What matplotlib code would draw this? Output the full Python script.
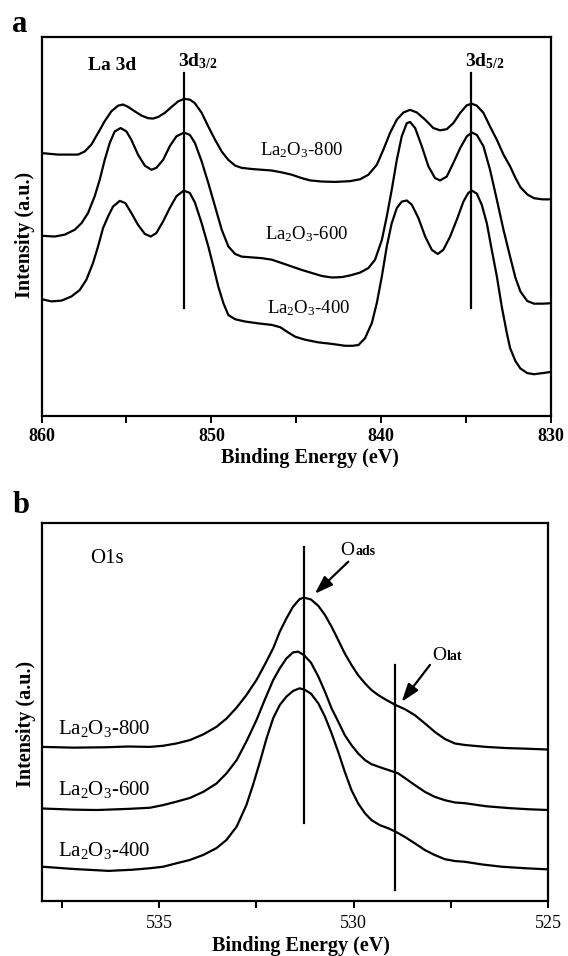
import matplotlib
matplotlib.use('Agg')
import matplotlib.pyplot as plt
import matplotlib.ticker as ticker

plt.rcParams['font.family'] = ['Liberation Serif', 'DejaVu Serif']
plt.rcParams['mathtext.fontset'] = 'custom'
plt.rcParams['mathtext.rm'] = 'Liberation Serif'
plt.rcParams['mathtext.it'] = 'Liberation Serif:italic'
plt.rcParams['mathtext.bf'] = 'Liberation Serif:bold'

# ---- panel a: La 3d (binding energy eV, intensity a.u.) ----
sample_labels = ['La$_2$O$_3$-800', 'La$_2$O$_3$-600', 'La$_2$O$_3$-400']

la_800_x = [860.0, 859.03, 857.85, 857.46, 857.07, 856.67, 856.28, 855.89, 855.49, 855.20,
            854.91, 854.51, 854.12, 853.73, 853.43, 853.14, 852.74, 852.36, 851.96, 851.61,
            851.27, 850.98, 850.57, 850.18, 849.78, 849.39, 849.00, 848.60, 848.21, 847.62,
            847.03, 846.44, 845.85, 845.27, 844.68, 844.19, 843.50, 842.71, 841.83, 841.24,
            840.75, 840.26, 839.87, 839.48, 839.08, 838.69, 838.30, 837.90, 837.41, 836.93,
            836.53, 836.14, 835.75, 835.35, 834.96, 834.66, 834.37, 833.98, 833.59, 833.19,
            832.80, 832.41, 832.1, 831.8, 831.4, 831.0, 830.5, 830.0]
la_800_y = [69.3, 68.9, 68.9, 69.7, 71.5, 74.6, 77.7, 80.3, 81.8, 82.1,
            81.5, 80.3, 79.2, 78.5, 78.4, 78.8, 79.9, 81.4, 82.9, 83.6,
            83.4, 82.5, 79.9, 76.3, 72.8, 69.7, 67.5, 66.0, 65.4, 65.1,
            64.9, 64.7, 64.2, 63.6, 62.7, 62.1, 61.8, 61.7, 61.9, 62.4,
            63.6, 66.2, 70.2, 74.6, 78.1, 80.0, 80.7, 80.0, 78.1, 75.9,
            75.3, 75.6, 77.2, 79.9, 81.9, 82.3, 81.8, 79.9, 76.3, 72.8,
            68.9, 65.8, 62.8, 60.3, 58.4, 57.4, 57.1, 57.1]

la_600_x = [860.0, 859.22, 858.63, 858.04, 857.65, 857.26, 856.87, 856.57, 856.28, 855.98,
            855.69, 855.34, 855.00, 854.71, 854.32, 853.92, 853.53, 853.24, 852.84, 852.45,
            852.06, 851.61, 851.27, 850.97, 850.57, 850.18, 849.78, 849.39, 849.00, 848.60,
            848.21, 847.62, 847.03, 846.44, 845.85, 845.27, 844.68, 844.09, 843.50, 842.91,
            842.32, 841.78, 841.24, 840.75, 840.36, 839.96, 839.67, 839.38, 839.08, 838.79,
            838.49, 838.30, 838.00, 837.61, 837.22, 836.83, 836.53, 836.14, 835.75, 835.35,
            834.96, 834.66, 834.37, 833.98, 833.59, 833.19, 832.80, 832.41, 832.1, 831.8,
            831.4, 831.0, 830.5, 830.0]
la_600_y = [47.5, 47.3, 47.8, 49.1, 50.8, 53.5, 57.9, 62.3, 67.5, 72.0,
            75.0, 75.9, 75.0, 72.8, 68.9, 66.0, 64.9, 65.4, 67.5, 71.1,
            73.7, 74.7, 74.1, 72.0, 67.1, 61.4, 55.2, 49.1, 44.7, 42.7,
            42.0, 41.8, 41.6, 41.2, 40.3, 39.4, 38.5, 37.7, 36.9, 36.5,
            36.6, 37.1, 37.8, 39.0, 41.2, 46.4, 52.6, 59.6, 67.5, 73.7,
            77.2, 77.5, 75.9, 71.1, 65.8, 62.7, 62.1, 63.1, 66.7, 70.6,
            73.7, 74.7, 74.1, 71.1, 64.9, 57.0, 49.1, 42.0, 36.5, 32.8,
            30.3, 29.6, 29.6, 29.7]

la_400_x = [860.0, 859.42, 858.83, 858.24, 857.75, 857.36, 856.97, 856.67, 856.38, 856.08,
            855.79, 855.39, 855.06, 854.71, 854.32, 853.92, 853.57, 853.24, 852.84, 852.45,
            852.06, 851.63, 851.27, 850.97, 850.57, 850.18, 849.88, 849.59, 849.29, 849.00,
            848.60, 848.02, 847.23, 846.44, 845.95, 845.47, 845.07, 844.48, 843.70, 842.91,
            842.13, 841.68, 841.34, 840.95, 840.55, 840.26, 839.96, 839.67, 839.38, 839.08,
            838.79, 838.49, 838.20, 837.81, 837.41, 837.02, 836.67, 836.34, 835.94, 835.55,
            835.16, 834.87, 834.66, 834.37, 834.08, 833.78, 833.49, 833.19, 832.90, 832.60,
            832.41, 832.1, 831.8, 831.4, 831.0, 830.5, 830.0]
la_400_y = [30.8, 30.2, 30.4, 31.5, 33.2, 35.9, 40.3, 44.7, 49.5, 52.6,
            55.2, 56.7, 56.1, 53.5, 50.4, 48.0, 47.3, 48.2, 51.3, 54.8,
            57.9, 59.4, 58.8, 56.3, 50.8, 44.7, 39.4, 34.1, 29.7, 26.6,
            25.5, 24.9, 24.4, 24.0, 23.4, 22.0, 20.9, 20.1, 19.4, 19.0,
            18.5, 18.5, 18.7, 20.5, 24.5, 29.7, 36.8, 44.7, 50.8, 54.8,
            56.5, 56.8, 55.7, 52.2, 47.3, 43.8, 42.7, 43.8, 47.3, 51.7,
            56.5, 58.8, 59.4, 58.6, 55.7, 50.8, 43.8, 36.8, 28.8, 21.8,
            17.9, 14.5, 12.5, 11.3, 11.0, 11.3, 11.6]

la_peaks = [851.63, 834.72]

# ---- panel b: O 1s ----
o_800_x = [538.0, 537.2, 536.4, 535.8, 535.24, 534.90, 534.56, 534.21, 533.87, 533.53,
           533.27, 533.01, 532.76, 532.50, 532.29, 532.07, 531.90, 531.73, 531.56, 531.39,
           531.28, 531.10, 530.91, 530.74, 530.57, 530.40, 530.23, 530.06, 529.89, 529.71,
           529.54, 529.37, 529.16, 528.93, 528.69, 528.43, 528.17, 527.92, 527.66, 527.40,
           527.14, 526.6, 526.1, 525.5, 525.0]
o_800_y = [40.7, 40.5, 40.6, 40.8, 40.7, 41.0, 41.6, 42.5, 44.0, 46.0,
           48.2, 51.1, 54.4, 58.4, 62.4, 66.8, 71.2, 74.7, 77.8, 79.8,
           80.2, 79.7, 78.0, 75.6, 72.5, 69.0, 65.4, 62.4, 59.7, 57.5,
           55.7, 54.4, 53.1, 51.8, 50.7, 49.1, 46.9, 44.7, 42.8, 41.6,
           41.2, 40.7, 40.4, 40.2, 40.0]

o_600_x = [538.0, 537.2, 536.6, 535.8, 535.24, 534.90, 534.56, 534.21, 533.87, 533.53,
           533.27, 533.01, 532.76, 532.50, 532.29, 532.07, 531.90, 531.73, 531.56, 531.43,
           531.28, 531.10, 530.91, 530.74, 530.57, 530.40, 530.23, 530.06, 529.89, 529.71,
           529.54, 529.29, 529.03, 528.86, 528.69, 528.43, 528.17, 527.92, 527.66, 527.40,
           527.14, 526.6, 526.0, 525.5, 525.0]
o_600_y = [24.4, 24.1, 24.0, 24.3, 24.6, 25.3, 26.2, 27.2, 28.8, 31.0,
           33.7, 37.2, 42.1, 47.8, 53.1, 58.4, 61.5, 64.1, 65.7, 65.9,
           65.0, 63.0, 59.3, 55.3, 50.9, 47.4, 43.8, 41.2, 39.0, 37.2,
           36.1, 35.2, 34.3, 33.7, 32.5, 30.6, 28.8, 27.5, 26.6, 26.0,
           25.8, 25.0, 24.5, 24.2, 24.0]

o_400_x = [538.0, 537.2, 536.3, 535.7, 535.24, 534.90, 534.56, 534.21, 533.87, 533.53,
           533.27, 533.01, 532.76, 532.59, 532.41, 532.24, 532.07, 531.90, 531.73, 531.56,
           531.39, 531.26, 531.10, 530.91, 530.74, 530.57, 530.40, 530.23, 530.06, 529.89,
           529.71, 529.54, 529.33, 529.12, 528.93, 528.69, 528.43, 528.17, 527.92, 527.66,
           527.40, 527.14, 526.7, 526.2, 525.6, 525.0]
o_400_y = [9.0, 8.4, 7.9, 8.2, 8.6, 9.0, 9.9, 10.8, 12.1, 13.9,
           16.1, 19.6, 25.3, 30.6, 36.8, 43.0, 48.3, 51.8, 54.0, 55.5,
           56.2, 55.8, 54.8, 52.2, 48.7, 44.3, 39.4, 34.1, 29.3, 25.8,
           23.1, 21.3, 20.0, 19.2, 18.3, 16.9, 15.2, 13.4, 12.1, 11.0,
           10.5, 10.3, 9.6, 9.0, 8.6, 8.3]

o_ads = 531.28
o_lat = 528.93

fig = plt.figure(figsize=(5.68, 9.56), dpi=100)
axa = fig.add_axes([0.0731, 0.5649, 0.8970, 0.3968])
axb = fig.add_axes([0.0748, 0.0578, 0.8905, 0.3954])

lw = 1.6
for ax in (axa, axb):
    for s in ax.spines.values():
        s.set_linewidth(1.6)
    ax.set_yticks([])
    ax.tick_params(axis='x', which='both', direction='out', width=1.4, length=5)
    ax.set_ylim(0, 100)

# panel a
axa.plot(la_800_x, la_800_y, color='k', lw=lw)
axa.plot(la_600_x, la_600_y, color='k', lw=lw)
axa.plot(la_400_x, la_400_y, color='k', lw=lw)
for xp in la_peaks:
    axa.plot([xp, xp], [28.4, 90.4], color='k', lw=lw)
axa.set_xlim(860, 830)
axa.xaxis.set_major_locator(ticker.MultipleLocator(10))
axa.xaxis.set_minor_locator(ticker.MultipleLocator(5))
axa.tick_params(axis='x', labelsize=13, pad=4)
for t in axa.get_xticklabels():
    t.set_fontweight('bold')
axa.set_xlabel('Binding Energy (eV)', fontsize=14.5, fontweight='bold', labelpad=2)
axa.xaxis.label.set_x(0.527)
axa.set_ylabel('Intensity (a.u.)', fontsize=14.5, fontweight='bold', labelpad=5)
axa.yaxis.label.set_y(0.478)

axa.text(855.85, 92.3, 'La 3d', fontsize=14, fontweight='bold', ha='center', va='center')
axa.text(851.96, 93.6, r'3d$_{\mathbf{3/2}}$', fontsize=14, fontweight='bold', ha='left', va='center')
axa.text(835.04, 93.6, r'3d$_{\mathbf{5/2}}$', fontsize=14, fontweight='bold', ha='left', va='center')
axa.text(844.66, 70.2, sample_labels[0], fontsize=13.5, ha='center', va='center')
axa.text(844.4, 47.8, sample_labels[1], fontsize=13.5, ha='center', va='center')
axa.text(844.3, 28.4, sample_labels[2], fontsize=13.5, ha='center', va='center')
fig.text(0.022, 0.9665, 'a', fontsize=22, fontweight='bold', ha='left', va='baseline')

# panel b
axb.plot(o_800_x, o_800_y, color='k', lw=lw)
axb.plot(o_600_x, o_600_y, color='k', lw=lw)
axb.plot(o_400_x, o_400_y, color='k', lw=lw)
axb.plot([o_ads, o_ads], [20.6, 93.7], color='k', lw=lw)
axb.plot([o_lat, o_lat], [2.8, 62.4], color='k', lw=lw)
axb.set_xlim(538, 525)
axb.xaxis.set_major_locator(ticker.MultipleLocator(5))
axb.xaxis.set_minor_locator(ticker.MultipleLocator(2.5))
axb.tick_params(axis='x', labelsize=13, pad=5)
axb.set_xlabel('Binding Energy (eV)', fontsize=14.5, fontweight='bold', labelpad=3)
axb.xaxis.label.set_x(0.51)
axb.set_ylabel('Intensity (a.u.)', fontsize=14.5, fontweight='bold', labelpad=5)
axb.yaxis.label.set_y(0.469)

axb.text(536.35, 90.6, 'O1s', fontsize=15, ha='center', va='center')
axb.text(537.61, 45.6, sample_labels[0], fontsize=15, ha='left', va='center')
axb.text(537.61, 29.3, sample_labels[1], fontsize=15, ha='left', va='center')
axb.text(537.61, 13.4, sample_labels[2], fontsize=15, ha='left', va='center')

arrow = dict(arrowstyle='-|>,head_length=0.5,head_width=0.17', color='k', lw=1.6,
             mutation_scale=22, shrinkA=0, shrinkB=0)
axb.annotate('', xy=(531.0, 81.2), xytext=(530.14, 89.7), arrowprops=arrow)
axb.annotate('', xy=(528.77, 52.6), xytext=(528.04, 62.4), arrowprops=arrow)
for xo, yo, sub in [(529.98, 91.5, 'ads'), (527.63, 63.7, 'lat')]:
    axb.text(xo, yo, 'O', fontsize=14, ha='right', va='baseline')
    axb.annotate(sub, xy=(xo, yo), xytext=(0.8, 0), textcoords='offset points',
                 fontsize=10, fontweight='bold', ha='left', va='baseline')
fig.text(0.022, 0.4634, 'b', fontsize=22, fontweight='bold', ha='left', va='baseline')

fig.savefig('out.png', dpi=100)
